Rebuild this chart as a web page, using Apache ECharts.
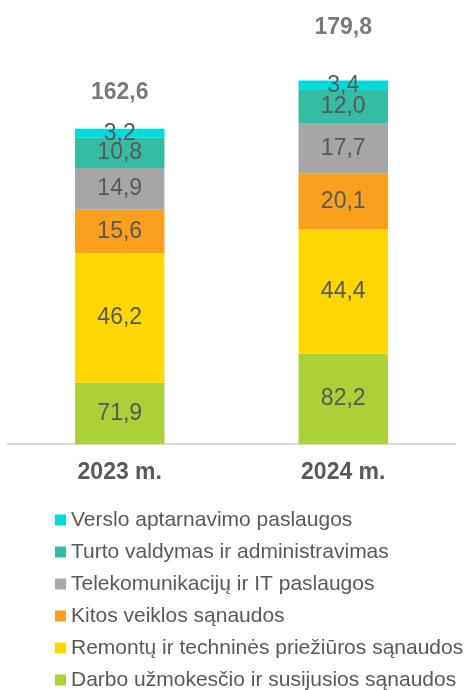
<!DOCTYPE html>
<html>
<head>
<meta charset="utf-8">
<script src="https://cdn.jsdelivr.net/npm/echarts@6/dist/echarts.min.js"></script>
<style>
  html, body { margin: 0; padding: 0; background: #fff; }
  #chart { width: 468px; height: 690px; }
</style>
</head>
<body>
<div id="chart"></div>
<script>
const categories = ['2023 m.', '2024 m.']
const seriesNames = [
  'Darbo užmokesčio ir susijusios sąnaudos',
  'Remontų ir techninės priežiūros sąnaudos',
  'Kitos veiklos sąnaudos',
  'Telekomunikacijų ir IT paslaugos',
  'Turto valdymas ir administravimas',
  'Verslo aptarnavimo paslaugos'
]
const darbo = [71.9, 82.2]
const remontu = [46.2, 44.4]
const kitos = [15.6, 20.1]
const telekom = [14.9, 17.7]
const turto = [10.8, 12.0]
const verslo = [3.2, 3.4]
const totals = [162.6, 179.8]

const colors = ['#ACD037', '#FFD700', '#F9A11F', '#A6A6A6', '#35BAA3', '#00DADF']
const TEXT = '#595959'
const FONT = 'Liberation Sans'
const totalOffsets = [-36, -53]

const fmt = v => v.toFixed(1).replace('.', ',')

let chart = echarts.init(document.getElementById('chart'))
let values = [darbo, remontu, kitos, telekom, turto, verslo]

let series = values.map((data, i) => ({
  name: seriesNames[i],
  type: 'bar',
  stack: 'total',
  barWidth: '40%',
  data: data,
  itemStyle: { color: colors[i] },
  label: {
    show: true,
    position: 'inside',
    color: TEXT,
    fontFamily: FONT,
    fontSize: 23,
    formatter: p => fmt(p.value),
  },
}))

// totals above the stacks
series.push({
  type: 'scatter',
  symbolSize: 0,
  silent: true,
  data: totals.map((v, i) => ({
    value: v,
    label: { offset: [0, totalOffsets[i]] },
  })),
  label: {
    show: true,
    position: 'inside',
    color: TEXT,
    fontFamily: FONT,
    fontSize: 23,
    fontWeight: 'bold',
    formatter: p => fmt(p.value),
  },
})

let option = {
  animation: false,
  color: colors,
  grid: { left: 8, right: 13, top: 24, bottom: 246 },
  legend: {
    data: seriesNames.slice().reverse(),
    orient: 'vertical',
    left: 55,
    top: 509,
    height: 220,
    padding: 0,
    icon: 'rect',
    itemWidth: 11,
    itemHeight: 11,
    itemGap: 10,
    textStyle: {
      color: TEXT,
      fontFamily: FONT,
      fontSize: 21,
      lineHeight: 22,
    },
  },
  xAxis: {
    type: 'category',
    data: categories,
    axisTick: { show: false },
    axisLine: { lineStyle: { color: '#D9D9D9', width: 2 } },
    axisLabel: {
      color: TEXT,
      fontFamily: FONT,
      fontSize: 23,
      fontWeight: 'bold',
      margin: 17,
    },
  },
  yAxis: {
    type: 'value',
    min: 50,
    max: 200,
    show: false,
    splitLine: { show: false },
  },
  series: series,
}
chart.setOption(option)
</script>
</body>
</html>
